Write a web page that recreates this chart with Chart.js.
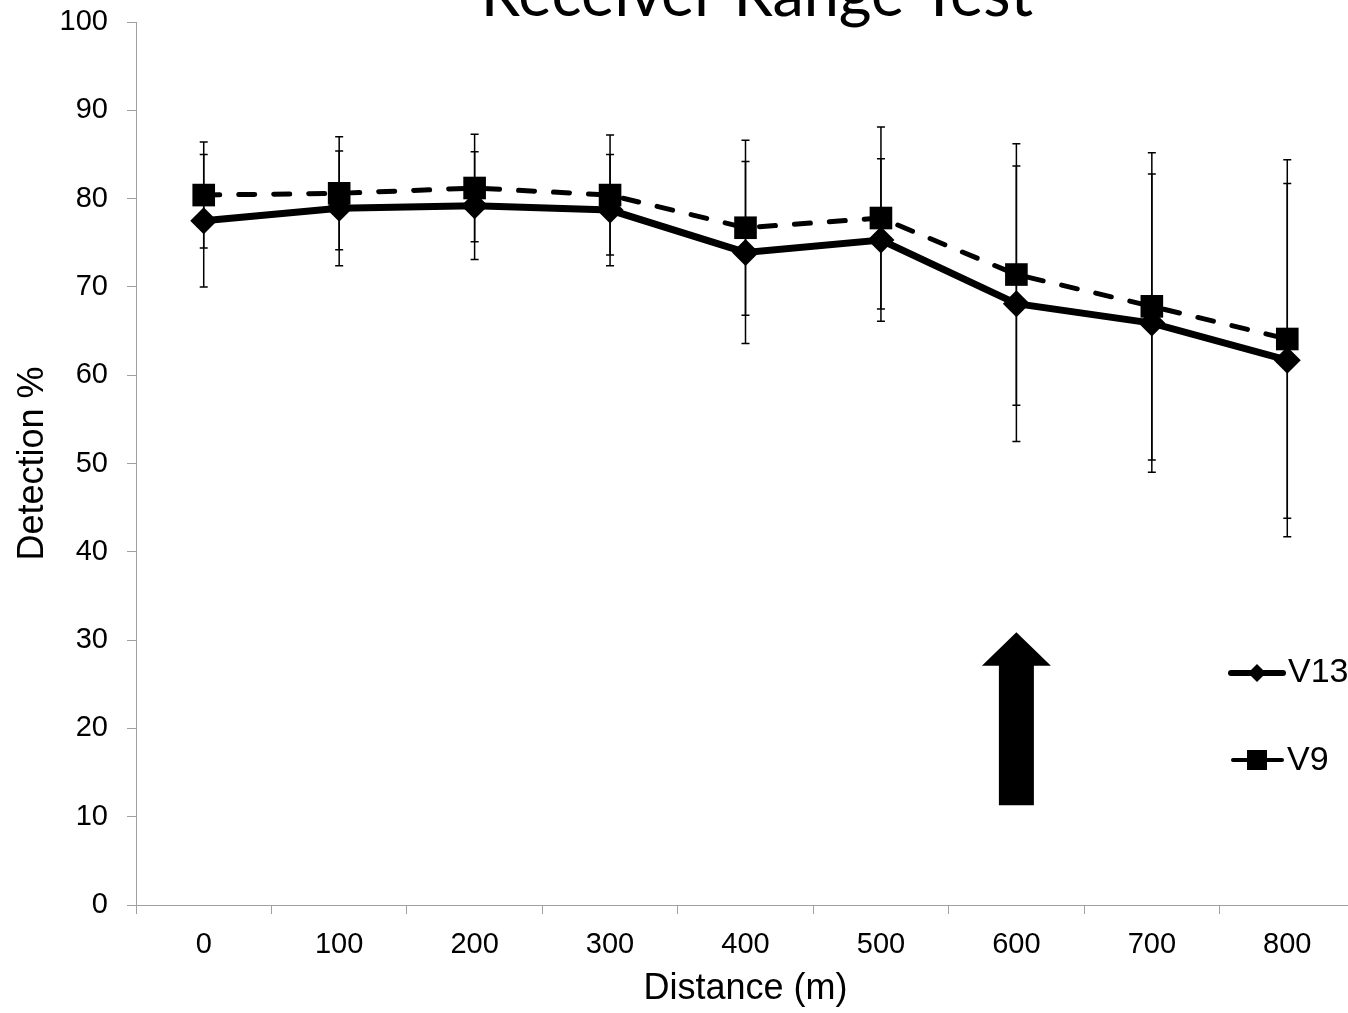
<!DOCTYPE html>
<html>
<head>
<meta charset="utf-8">
<title>Receiver Range Test</title>
<script src="https://cdn.jsdelivr.net/npm/chart.js@4.4.0/dist/chart.umd.min.js"></script>
<style>
  html, body { margin: 0; padding: 0; background: #fff; overflow: hidden; }
  canvas { display: block; }
</style>
</head>
<body>
<canvas id="grafico" width="1371" height="1013"></canvas>
<script>
//* Datos

var distancias = ["0", "100", "200", "300", "400", "500", "600", "700", "800"];
var marcasY = [0, 10, 20, 30, 40, 50, 60, 70, 80, 90, 100];

var v13 = [77.5, 78.9, 79.2, 78.7, 73.9, 75.3, 68.1, 65.9, 61.7];
var v13Error = [7.5, 6.5, 6.1, 6.3, 10.3, 9.2, 15.6, 16.9, 20.0];

var v9 = [80.4, 80.6, 81.2, 80.4, 76.7, 77.8, 71.4, 67.8, 64.1];
var v9Error = [6.0, 6.4, 6.1, 6.8, 9.9, 10.3, 14.8, 17.4, 20.3];

// flecha que marca los 600 m (en unidades del eje y)
var flechaCategoria = "600";
var flechaPunta = 30.9;
var flechaCabeza = 27.1;
var flechaBase = 11.3;

var colorEje = '#a0a0a0';
var fuente = "'Liberation Sans', Arial, sans-serif";

Chart.defaults.font.family = fuente;
Chart.defaults.color = '#000';

//!-----------------------------------------------------------------------------

//* Barras de error (se dibujan antes de las lineas)
var barrasError = {
  id: 'barrasError',
  beforeDatasetsDraw: function (chart) {
    var ctx = chart.ctx;
    var escalaX = chart.scales.x;
    var escalaY = chart.scales.y;
    var errores = [v13Error, v9Error];
    ctx.save();
    ctx.strokeStyle = '#000';
    ctx.lineWidth = 1.5;
    chart.data.datasets.forEach(function (ds, i) {
      ds.data.forEach(function (valor, j) {
        var px = escalaX.getPixelForValue(j);
        var arriba = escalaY.getPixelForValue(valor + errores[i][j]);
        var abajo = escalaY.getPixelForValue(valor - errores[i][j]);
        ctx.beginPath();
        ctx.moveTo(px, arriba);
        ctx.lineTo(px, abajo);
        ctx.moveTo(px - 4, arriba);
        ctx.lineTo(px + 4, arriba);
        ctx.moveTo(px - 4, abajo);
        ctx.lineTo(px + 4, abajo);
        ctx.stroke();
      });
    });
    ctx.restore();
  }
};

//* Titulo, flecha y leyenda
var extras = {
  id: 'extras',
  afterDraw: function (chart) {
    var ctx = chart.ctx;
    var escalaX = chart.scales.x;
    var escalaY = chart.scales.y;
    ctx.save();

    // titulo (cortado arriba como en el original)
    ctx.fillStyle = '#000';
    ctx.font = "63px Lato, 'Open Sans', sans-serif";
    ctx.textAlign = 'center';
    ctx.textBaseline = 'alphabetic';
    ctx.fillText('Receiver Range Test', 757, 16);

    // flecha
    var cx = escalaX.getPixelForValue(distancias.indexOf(flechaCategoria));
    var punta = escalaY.getPixelForValue(flechaPunta);
    var cabeza = escalaY.getPixelForValue(flechaCabeza);
    var base = escalaY.getPixelForValue(flechaBase);
    ctx.beginPath();
    ctx.moveTo(cx, punta);
    ctx.lineTo(cx + 34.5, cabeza);
    ctx.lineTo(cx + 17.5, cabeza);
    ctx.lineTo(cx + 17.5, base);
    ctx.lineTo(cx - 17.5, base);
    ctx.lineTo(cx - 17.5, cabeza);
    ctx.lineTo(cx - 34.5, cabeza);
    ctx.closePath();
    ctx.fill();

    // leyenda
    ctx.strokeStyle = '#000';
    ctx.lineCap = 'round';
    ctx.lineWidth = 6;
    ctx.beginPath();
    ctx.moveTo(1231, 673);
    ctx.lineTo(1283, 673);
    ctx.stroke();
    ctx.beginPath();
    ctx.moveTo(1257, 664);
    ctx.lineTo(1266, 673);
    ctx.lineTo(1257, 682);
    ctx.lineTo(1248, 673);
    ctx.closePath();
    ctx.fill();

    ctx.lineWidth = 4;
    ctx.beginPath();
    ctx.moveTo(1233, 760);
    ctx.lineTo(1282, 760);
    ctx.stroke();
    ctx.fillRect(1247, 750, 20, 20);

    ctx.font = '34px ' + fuente;
    ctx.textAlign = 'left';
    ctx.textBaseline = 'middle';
    ctx.fillText('V13', 1288, 673);
    ctx.fillText('V9', 1287, 761);
    ctx.restore();
  }
};

var ctx = document.getElementById('grafico').getContext('2d');

var miGrafico = new Chart(ctx, {
  type: 'line',
  data: {
    labels: distancias,
    datasets: [
      {
        label: 'V13',
        data: v13,
        borderColor: '#000',
        backgroundColor: '#000',
        borderWidth: 7,
        pointStyle: 'rectRot',
        pointRadius: 13.5,
        pointBackgroundColor: '#000',
        pointBorderWidth: 0,
        tension: 0,
        order: 2
      },
      {
        label: 'V9',
        data: v9,
        borderColor: '#000',
        backgroundColor: '#000',
        borderWidth: 5,
        borderDash: [16, 19],
        borderCapStyle: 'round',
        pointStyle: 'rect',
        pointRadius: 16,
        pointBackgroundColor: '#000',
        pointBorderWidth: 0,
        tension: 0,
        order: 1
      }
    ]
  },
  options: {
    responsive: false,
    animation: false,
    devicePixelRatio: 1,
    events: [],
    layout: { padding: { left: 0, right: 6, top: 22, bottom: 0 } },
    plugins: {
      legend: { display: false },
      title: { display: false },
      tooltip: { enabled: false }
    },
    scales: {
      x: {
        offset: true,
        afterFit: function (s) {
          s.height = 108;
          s.paddingLeft = 0;
          s.paddingRight = 0;
        },
        border: { color: colorEje, width: 1 },
        grid: { offset: true, drawOnChartArea: false, tickLength: 9, color: colorEje },
        ticks: { font: { size: 29 }, color: '#000', padding: 14, maxRotation: 0 },
        title: {
          display: true,
          text: 'Distance (m)',
          font: { size: 36 },
          color: '#000',
          padding: { top: 0, bottom: 2 }
        }
      },
      y: {
        min: 0,
        max: 100,
        afterFit: function (s) {
          s.width = 136;
          s.paddingTop = 0;
          s.paddingBottom = 0;
        },
        afterBuildTicks: function (s) {
          s.ticks = marcasY.map(function (v) { return { value: v }; });
        },
        border: { color: colorEje, width: 1 },
        grid: { drawOnChartArea: false, tickLength: 9, color: colorEje },
        ticks: { font: { size: 29 }, color: '#000', padding: 19 },
        title: {
          display: true,
          text: 'Detection %',
          font: { size: 36 },
          color: '#000',
          padding: { top: 11, bottom: 0 }
        }
      }
    }
  },
  plugins: [barrasError, extras]
});
</script>
</body>
</html>
